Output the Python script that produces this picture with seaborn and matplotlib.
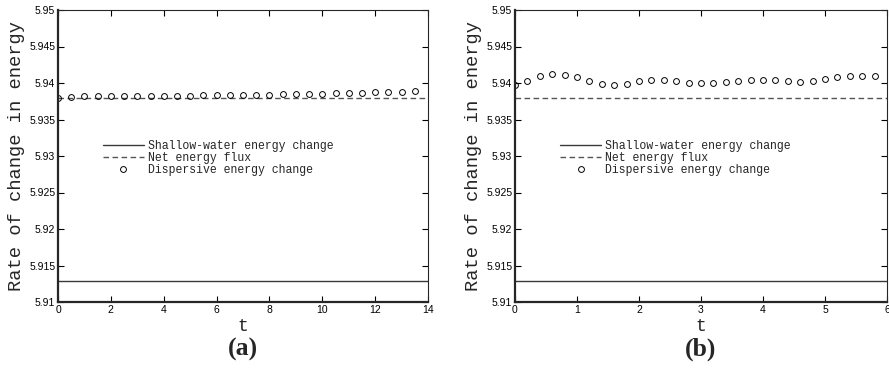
import numpy as np
import pandas as pd
import matplotlib
matplotlib.use("Agg")
import matplotlib.pyplot as plt
from matplotlib.ticker import FuncFormatter
import seaborn as sns

# ---- data ----
t_a = [0.0, 0.5, 1.0, 1.5, 2.0, 2.5, 3.0, 3.5, 4.0, 4.5, 5.0, 5.5, 6.0, 6.5,
       7.0, 7.5, 8.0, 8.5, 9.0, 9.5, 10.0, 10.5, 11.0, 11.5, 12.0, 12.5, 13.0, 13.5]
disp_a = [5.93800, 5.93815, 5.93818, 5.93820, 5.93820, 5.93822, 5.93822, 5.93823,
          5.93824, 5.93825, 5.93827, 5.93829, 5.93831, 5.93834, 5.93836, 5.93839,
          5.93842, 5.93845, 5.93848, 5.93852, 5.93856, 5.93860, 5.93864, 5.93869,
          5.93873, 5.93878, 5.93883, 5.93888]

t_b = [0.0, 0.2, 0.4, 0.6, 0.8, 1.0, 1.2, 1.4, 1.6, 1.8, 2.0, 2.2, 2.4, 2.6, 2.8,
       3.0, 3.2, 3.4, 3.6, 3.8, 4.0, 4.2, 4.4, 4.6, 4.8, 5.0, 5.2, 5.4, 5.6, 5.8]
disp_b = [5.93970, 5.94032, 5.94096, 5.94119, 5.94105, 5.94078, 5.94027, 5.93986,
          5.93973, 5.93986, 5.94023, 5.94041, 5.94041, 5.94023, 5.94004, 5.93995,
          5.94000, 5.94014, 5.94027, 5.94041, 5.94046, 5.94037, 5.94023, 5.94018,
          5.94027, 5.94055, 5.94082, 5.94092, 5.94092, 5.94096]

shallow_water = 5.9129
net_flux = 5.9380

xrange_a = [0, 14]
xrange_b = [0, 6]
xticks_a = [0, 2, 4, 6, 8, 10, 12, 14]
xticks_b = [0, 1, 2, 3, 4, 5, 6]
yticks = [5.91, 5.915, 5.92, 5.925, 5.93, 5.935, 5.94, 5.945, 5.95]

labels = ["Shallow-water energy change", "Net energy flux", "Dispersive energy change"]
panel_labels = ["(a)", "(b)"]

# ---- style ----
sns.set_style("ticks")
plt.rcParams['font.family'] = ['Liberation Sans', 'DejaVu Sans']

fig = plt.figure(figsize=(8.89, 3.68), dpi=100)
ax_a = fig.add_axes([58/889, 66/368, 370/889, 292/368])
ax_b = fig.add_axes([515/889, 66/368, 372/889, 292/368])

mono = 'Liberation Mono'

def draw(ax, xr, t, disp, xticks, plabel):
    sw = pd.DataFrame({"t": xr, "v": [shallow_water] * len(xr)})
    nf = pd.DataFrame({"t": xr, "v": [net_flux] * len(xr)})
    dd = pd.DataFrame({"t": t, "v": disp})
    sns.lineplot(data=sw, x="t", y="v", ax=ax, color="#3a3a3a", lw=1.0,
                 label=labels[0])
    sns.lineplot(data=nf, x="t", y="v", ax=ax, color="#555555", lw=1.0,
                 label=labels[1], dashes=False)
    ax.lines[-1].set_linestyle((0, (4, 2.5)))
    sns.lineplot(data=dd, x="t", y="v", ax=ax, color="black", linestyle="none",
                 marker="o", markersize=4.2, markerfacecolor="none",
                 markeredgecolor="black", markeredgewidth=0.7, label=labels[2])
    ax.set_xlim(xr)
    ax.set_ylim(5.91, 5.95)
    ax.set_xticks(xticks)
    ax.set_yticks(yticks)
    ax.yaxis.set_major_formatter(FuncFormatter(lambda v, p: f"{v:g}"))
    ax.xaxis.set_major_formatter(FuncFormatter(lambda v, p: f"{v:g}"))
    ax.tick_params(direction="in", top=True, right=True, length=4, width=0.8,
                   labelsize=7.5, colors="black", pad=2)
    for s in ["left", "bottom"]:
        ax.spines[s].set_linewidth(1.6)
    for s in ["top", "right"]:
        ax.spines[s].set_linewidth(0.8)
        ax.spines[s].set_visible(True)
    ax.set_xlabel("t", fontfamily=mono, fontsize=13, labelpad=2)
    ax.set_ylabel("Rate of change in energy", fontfamily=mono, fontsize=13.5,
                  labelpad=3)
    ax.legend(loc="upper left", bbox_to_anchor=(0.105, 0.575), frameon=False,
              prop={"family": mono, "size": 8.3}, handlelength=3.6,
              handletextpad=0.35, labelspacing=0.0, borderpad=0.0)
    ax.text(0.5, -0.162, plabel, transform=ax.transAxes, ha="center", va="center",
            fontfamily="Liberation Serif", fontweight="bold", fontsize=18.5)

draw(ax_a, xrange_a, t_a, disp_a, xticks_a, panel_labels[0])
draw(ax_b, xrange_b, t_b, disp_b, xticks_b, panel_labels[1])

fig.savefig("out.png", dpi=100)
